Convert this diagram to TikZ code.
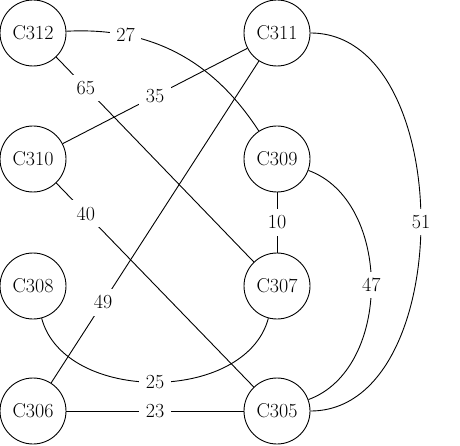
\documentclass[tikz,border=0pt]{standalone}
\begin{document}
\begin{tikzpicture}[x=1pt,y=1pt,line width=0.9pt,
  vert/.style={circle,draw,minimum size=66pt,inner sep=0pt,font=\fontsize{20}{24}\selectfont},
  lbl/.style={fill=white,inner sep=6.5pt,font=\fontsize{20}{24}\selectfont}]
\useasboundingbox (0,0) rectangle (460,-446);
\node[vert] (C312) at (33,-33) {C312};
\node[vert] (C311) at (277,-33) {C311};
\node[vert] (C310) at (33,-159) {C310};
\node[vert] (C309) at (277,-159) {C309};
\node[vert] (C308) at (33,-286) {C308};
\node[vert] (C307) at (277,-286) {C307};
\node[vert] (C306) at (33,-411) {C306};
\node[vert] (C305) at (277,-411) {C305};
\draw (C312) to[out=3,in=123] node[lbl,pos=0.25]{27} (C309);
\draw (C312) -- node[lbl,pos=0.15]{65} (C307);
\draw (C310) -- node[lbl]{35} (C311);
\draw (C310) -- node[lbl,pos=0.15]{40} (C305);
\draw (C306) -- node[lbl,pos=0.25]{49} (C311);
\draw (C311) to[out=0,in=0] node[lbl]{51} (C305);
\draw (C309) -- node[lbl]{10} (C307);
\draw (C309) to[out=-20,in=20] node[lbl]{47} (C305);
\draw (C308) to[out=-75,in=-105] node[lbl]{25} (C307);
\draw (C306) -- node[lbl]{23} (C305);
\end{tikzpicture}
\end{document}
